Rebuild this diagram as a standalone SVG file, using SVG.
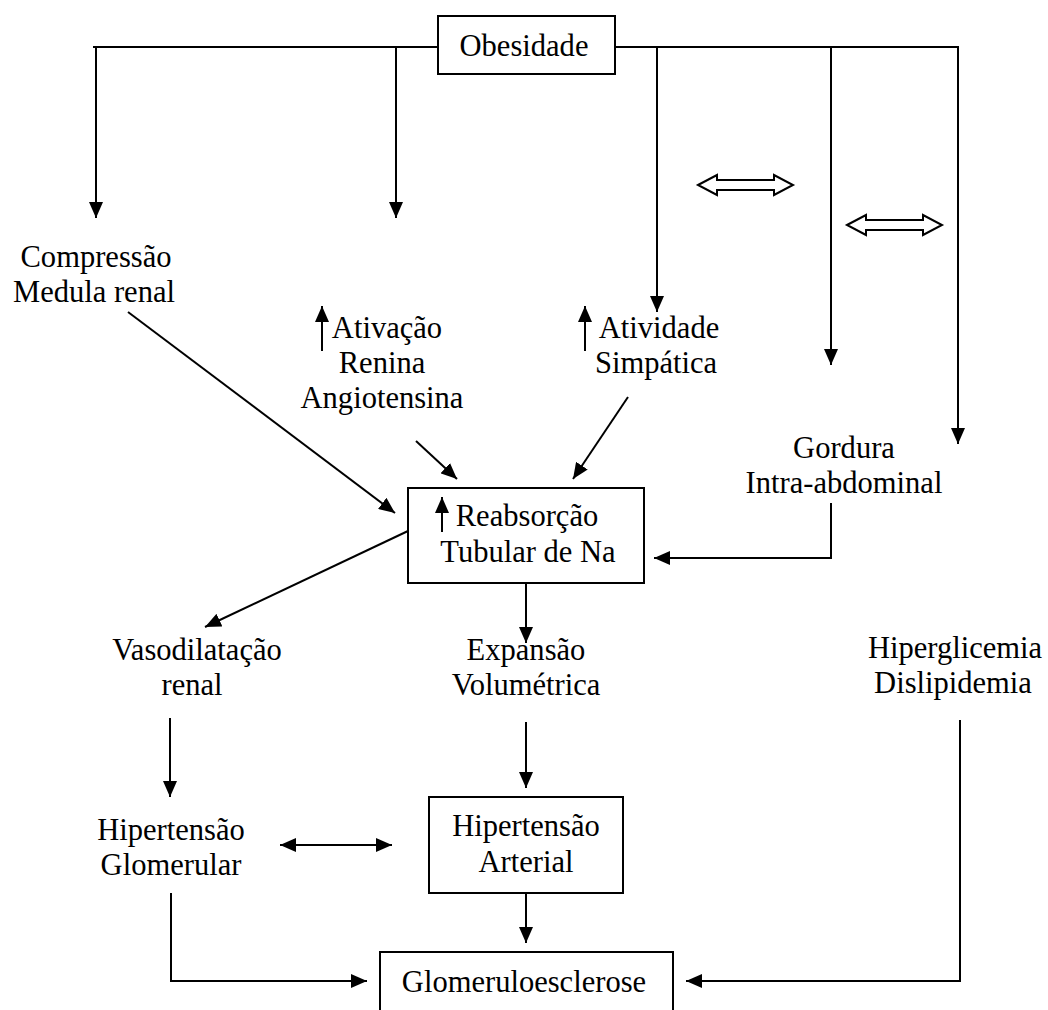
<svg xmlns="http://www.w3.org/2000/svg" width="1048" height="1010" viewBox="0 0 1048 1010">
<style>
text{font-family:"Liberation Serif","Times New Roman",serif;font-size:32.5px;fill:#000;text-anchor:middle;transform-box:fill-box;transform-origin:center;transform:scaleX(0.94)}
.box{fill:#fff;stroke:#000;stroke-width:2}
.ln{fill:none;stroke:#000;stroke-width:2}
.ar{fill:none;stroke:#000;stroke-width:2;marker-end:url(#ah)}
.da{fill:none;stroke:#000;stroke-width:2;marker-end:url(#ah);marker-start:url(#ah)}
.ho{fill:#fff;stroke:#000;stroke-width:2}
</style>
<defs>
<marker id="ah" viewBox="0 0 16 14" refX="16" refY="7" markerWidth="16" markerHeight="14" markerUnits="userSpaceOnUse" orient="auto-start-reverse"><path d="M0,0 L16,7 L0,14 z" fill="#000"/></marker>
</defs>
<rect width="1048" height="1010" fill="#fff"/>
<g id="connectors">
<path class="ln" d="M93,47 H438 M615,47 H959"/>
<path class="ar" d="M96,47 V218"/>
<path class="ar" d="M396,47 V218"/>
<path class="ar" d="M657,47 V312"/>
<path class="ar" d="M831,47 V365"/>
<path class="ar" d="M958,47 V444"/>
<polygon class="ho" points="698,185 717,175 717,180 774,180 774,175 793,185 774,195 774,190 717,190 717,195"/>
<polygon class="ho" points="847,225 866,215 866,220 923,220 923,215 942,225 923,235 923,230 866,230 866,235"/>
<path class="ar" d="M128,312 L395,513"/>
<path class="ar" d="M416,441 L457,479"/>
<path class="ar" d="M628,397 L573,479"/>
<path class="ar" d="M831,503 V558 H654"/>
<path class="ar" d="M408,531 L205,627"/>
<path class="ar" d="M526,583 V643"/>
<path class="ar" d="M170,718 V797"/>
<path class="ar" d="M526,722 V788"/>
<path class="da" d="M280,845 H392"/>
<path class="ar" d="M526,893 V943"/>
<path class="ar" d="M171,893 V981 H367"/>
<path class="ar" d="M960,720 V981 H686"/>
</g>
<g id="obesidade">
<rect class="box" x="438" y="16" width="177" height="58"/>
<text x="524" y="56">Obesidade</text>
</g>
<g id="compressao">
<text x="96" y="267">Compressão</text>
<text x="94" y="302">Medula renal</text>
</g>
<g id="renina">
<path class="ar" d="M322,351 V306"/>
<text x="387" y="338">Ativação</text>
<text x="382" y="373">Renina</text>
<text x="382" y="408">Angiotensina</text>
</g>
<g id="simpatica">
<path class="ar" d="M585,351 V306"/>
<text x="659" y="338">Atividade</text>
<text x="656" y="373">Simpática</text>
</g>
<g id="gordura">
<text x="844" y="458">Gordura</text>
<text x="844" y="493">Intra-abdominal</text>
</g>
<g id="reabsorcao">
<rect class="box" x="408" y="488" width="236" height="95"/>
<path class="ar" d="M442,532 V497"/>
<text x="527" y="526">Reabsorção</text>
<text x="528" y="562">Tubular de Na</text>
</g>
<g id="vasodilatacao">
<text x="197" y="660">Vasodilatação</text>
<text x="192" y="695">renal</text>
</g>
<g id="expansao">
<text x="526" y="660">Expansão</text>
<text x="526" y="695">Volumétrica</text>
</g>
<g id="hiperglicemia">
<text x="955" y="658">Hiperglicemia</text>
<text x="953" y="693">Dislipidemia</text>
</g>
<g id="hiperglomerular">
<text x="171" y="840">Hipertensão</text>
<text x="171" y="875">Glomerular</text>
</g>
<g id="hiperarterial">
<rect class="box" x="429" y="797" width="194" height="96"/>
<text x="526" y="836">Hipertensão</text>
<text x="526" y="872">Arterial</text>
</g>
<g id="glomeruloesclerose">
<rect class="box" x="380" y="952" width="293" height="70"/>
<text x="524" y="992">Glomeruloesclerose</text>
</g>
</svg>
